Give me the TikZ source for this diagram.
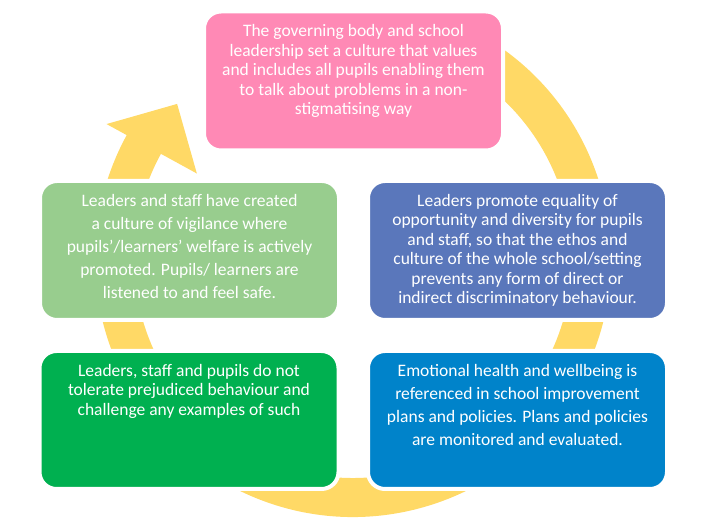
\documentclass[tikz,border=0pt]{standalone}
\usepackage{fontspec}
\setmainfont{Carlito}
\usepackage{xcolor}
\usepackage{tikz}
\usetikzlibrary{positioning}

\definecolor{ringyellow}{HTML}{FFD966}
\definecolor{govpink}{HTML}{FF89B5}
\definecolor{vigilgreen}{HTML}{98CD8E}
\definecolor{equalblue}{HTML}{5A77BB}
\definecolor{toleragreen}{HTML}{00B050}
\definecolor{wellblue}{HTML}{0083CA}

\begin{document}
\begin{tikzpicture}[x=1pt,y=1pt,
                card/.style={draw=white,line width=4pt,rounded corners=17pt,minimum width=299pt,minimum height=139pt,inner sep=0pt},
                words/.style={text=white,align=center,inner sep=0pt,anchor=north,font=\fontsize{17.5}{19.5}\selectfont},
                loose/.style={font=\fontsize{17.5}{23}\selectfont},
                ring/.style={fill=ringyellow},
            ]

                \def\R{258}
                \def\r{219}
                \def\tail{65}
                \def\head{151.3}

                \useasboundingbox (0,0) rectangle (702,522);

                %% Circular arrow behind the cards
                \begin{scope}[shift={(353,263)}]
                    \fill[ring] (\tail:\R) arc[start angle=\tail,end angle=\head-360,radius=\R]
                        -- (\head:281) -- (138.6:234.5) -- (\head:178) -- (\head:\r)
                        arc[start angle=\head-360,end angle=\tail,radius=\r] -- cycle;
                \end{scope}

                %% Cards
                \node[card,fill=govpink] (gov) at (353.5,441) {};
                \node[card,fill=vigilgreen] (vigil) at (189.5,271.5) {};
                \node[card,fill=equalblue] (equal) at (517.5,271.5) {};
                \node[card,fill=toleragreen,minimum height=138pt] (tolera) at (189,102) {};
                \node[card,fill=wellblue,minimum height=138pt] (well) at (517.5,102) {};

                % Texts, hung from the top of each card
                \node[words] (govtext) [below=15pt of gov.north] {The governing body and school\\leadership set a culture that values\\and includes all pupils enabling them\\to talk about problems in a non-\\stigmatising way};
                \node[words,loose] (vigiltext) [below=15pt of vigil.north] {Leaders and staff have created\\a culture of vigilance where\\pupils’/learners’ welfare is actively\\promoted. Pupils/ learners are\\listened to and feel safe.};
                \node[words] (equaltext) [below=15pt of equal.north] {Leaders promote equality of\\opportunity and diversity for pupils\\and staff, so that the ethos and\\culture of the whole school/setting\\prevents any form of direct or\\indirect discriminatory behaviour.};
                \node[words] (toleratext) [below=15pt of tolera.north] {Leaders, staff and pupils do not\\tolerate prejudiced behaviour and\\challenge any examples of such};
                \node[words,loose] (welltext) [below=15pt of well.north] {Emotional health and wellbeing is\\referenced in school improvement\\plans and policies. Plans and policies\\are monitored and evaluated.};

            \end{tikzpicture}
\end{document}
